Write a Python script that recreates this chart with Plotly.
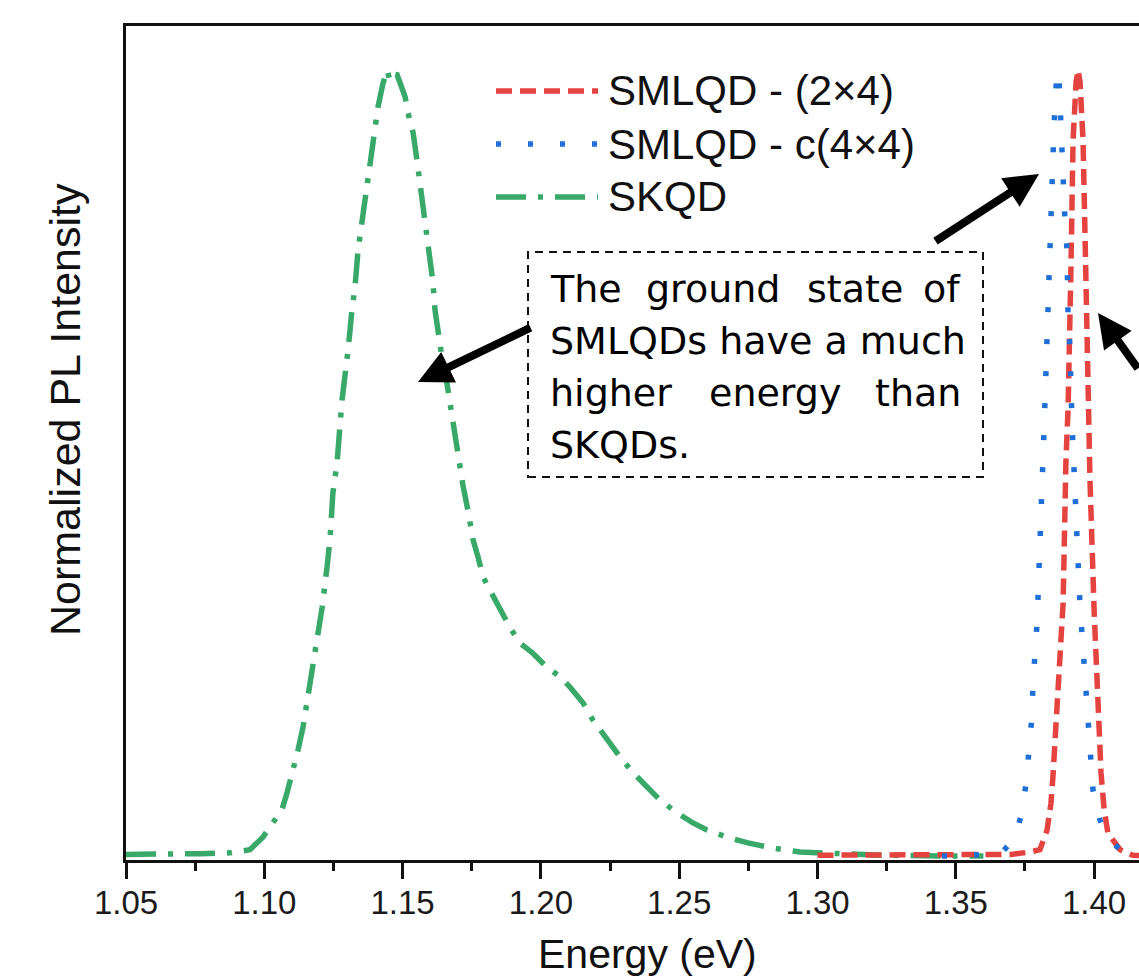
import plotly.graph_objects as go

# ---- spectra: photon energy (eV) and normalized PL intensity ----
skqd_energy = [1.0500, 1.0659, 1.0768, 1.0876, 1.0948, 1.0995, 1.1031, 1.1064, 1.1082, 1.1104,
               1.1122, 1.1140, 1.1154, 1.1172, 1.1191, 1.1209, 1.1227, 1.1238, 1.1248, 1.1263,
               1.1281, 1.1292, 1.1303, 1.1317, 1.1328, 1.1339, 1.1353, 1.1364, 1.1375, 1.1389,
               1.1400, 1.1411, 1.1429, 1.1444, 1.1454, 1.1465, 1.1480, 1.1498, 1.1509, 1.1520,
               1.1538, 1.1552, 1.1563, 1.1574, 1.1588, 1.1599, 1.1610, 1.1617, 1.1628, 1.1642,
               1.1660, 1.1671, 1.1682, 1.1700, 1.1718, 1.1736, 1.1755, 1.1773, 1.1791, 1.1816,
               1.1852, 1.1888, 1.1924, 1.1971, 1.2022, 1.2069, 1.2105, 1.2152, 1.2188, 1.2239,
               1.2286, 1.2333, 1.2384, 1.2431, 1.2492, 1.2550, 1.2600, 1.2673, 1.2745, 1.2839,
               1.2937, 1.3045, 1.3226, 1.3479, 1.3600]
skqd_intensity = [0.002, 0.002, 0.003, 0.004, 0.008, 0.024, 0.042, 0.059, 0.080, 0.109,
                  0.135, 0.164, 0.195, 0.226, 0.279, 0.316, 0.368, 0.405, 0.462, 0.500,
                  0.580, 0.609, 0.644, 0.695, 0.724, 0.771, 0.809, 0.835, 0.866, 0.898,
                  0.934, 0.953, 0.983, 1.000, 0.987, 0.995, 0.994, 0.978, 0.966, 0.945,
                  0.920, 0.885, 0.856, 0.822, 0.788, 0.758, 0.729, 0.695, 0.665, 0.635,
                  0.602, 0.576, 0.555, 0.510, 0.472, 0.440, 0.402, 0.380, 0.355, 0.338,
                  0.313, 0.291, 0.271, 0.258, 0.240, 0.228, 0.215, 0.195, 0.173, 0.148,
                  0.126, 0.106, 0.088, 0.071, 0.055, 0.042, 0.033, 0.024, 0.017, 0.010,
                  0.005, 0.003, 0.001, 0.000, 0.000]

sml24_energy = [1.3000, 1.3300, 1.3600, 1.3700, 1.3768, 1.3804, 1.3830, 1.3844, 1.3851, 1.3862,
                1.3869, 1.3877, 1.3884, 1.3888, 1.3898, 1.3906, 1.3916, 1.3924, 1.3935, 1.3942,
                1.3949, 1.3960, 1.3970, 1.3978, 1.3985, 1.4000, 1.4007, 1.4010, 1.4018, 1.4025,
                1.4036, 1.4050, 1.4094, 1.4140, 1.4184]
sml24_intensity = [0.001, 0.001, 0.001, 0.002, 0.005, 0.008, 0.033, 0.067, 0.100, 0.165,
                   0.202, 0.237, 0.275, 0.322, 0.500, 0.571, 0.742, 0.911, 0.985, 1.000,
                   0.985, 0.911, 0.742, 0.571, 0.480, 0.313, 0.250, 0.200, 0.150, 0.106,
                   0.060, 0.029, 0.008, 0.001, 0.000]

sml44_energy = [1.3450, 1.3515, 1.3606, 1.3660, 1.3714, 1.3739, 1.3754, 1.3765, 1.3775, 1.3779,
                1.3786, 1.3794, 1.3819, 1.3822, 1.3830, 1.3833, 1.3837, 1.3844, 1.3848, 1.3851,
                1.3855, 1.3862, 1.3866, 1.3873, 1.3877, 1.3884, 1.3888, 1.3891, 1.3895, 1.3902,
                1.3906, 1.3913, 1.3916, 1.3920, 1.3949, 1.3956, 1.3960, 1.3970, 1.3978, 1.3985,
                1.3996, 1.4021, 1.4050, 1.4094, 1.4140]
sml44_intensity = [0.000, 0.000, 0.002, 0.002, 0.023, 0.055, 0.092, 0.131, 0.176, 0.218,
                   0.262, 0.298, 0.542, 0.578, 0.656, 0.698, 0.742, 0.788, 0.838, 0.882,
                   0.928, 0.975, 1.000, 0.990, 0.952, 0.928, 0.882, 0.847, 0.805, 0.771,
                   0.686, 0.644, 0.606, 0.551, 0.319, 0.284, 0.247, 0.202, 0.163, 0.126,
                   0.084, 0.046, 0.023, 0.008, 0.001]

x_ticks = [1.05, 1.10, 1.15, 1.20, 1.25, 1.30, 1.35, 1.40]
x_minor_ticks = [1.075, 1.125, 1.175, 1.225, 1.275, 1.325, 1.375]

RED = "#e5433f"
BLUE = "#1f6fd8"
GREEN = "#38a968"

series = [
    ("SMLQD - (2×4)", sml24_energy, sml24_intensity, RED, "16px,8px"),
    ("SMLQD - c(4×4)", sml44_energy, sml44_intensity, BLUE, "5px,27px"),
    ("SKQD", skqd_energy, skqd_intensity, GREEN, "30px,12px,5px,12px"),
]

W, H = 1139, 979
ML, MR, MT, MB = 126, 0, 26, 119
PW, PH = W - ML - MR, H - MT - MB


def px(x):
    return (x - ML) / PW


def py(y):
    return (H - MB - y) / PH


fig = go.Figure()
# draw SKQD first so the narrow SML peaks sit on top
for name, e, i, col, dash in [series[2], series[0], series[1]]:
    fig.add_trace(go.Scatter(x=e, y=i, mode="lines", name=name, showlegend=False,
                             line=dict(color=col, width=5.5, dash=dash)))

shapes = []
annotations = []

# hand-built legend
leg_rows = [91, 144, 197]
for (name, _, _, col, dash), yy in zip(series, leg_rows):
    shapes.append(dict(type="line", xref="paper", yref="paper",
                       x0=px(496), x1=px(598), y0=py(yy), y1=py(yy),
                       line=dict(color=col, width=5.5, dash=dash)))
    annotations.append(dict(text=name, xref="paper", yref="paper", x=px(606), y=py(yy),
                            xanchor="left", yanchor="middle", showarrow=False,
                            font=dict(family="Liberation Sans, Arial", size=42, color="#111")))

# dashed note box
shapes.append(dict(type="rect", xref="paper", yref="paper",
                   x0=px(528), x1=px(983), y0=py(477), y1=py(252),
                   line=dict(color="#111", width=2, dash="8px,6px"), fillcolor="rgba(0,0,0,0)"))

note_font = dict(family="DejaVu Sans", size=38, color="#000")
note_words = [
    # (text, x pixel, anchor, baseline pixel) -- justified lines are set word by word
    ("The", 548, "left", 303), ("ground", 644, "left", 303), ("state", 805, "left", 303),
    ("of", 963, "right", 303),
    ("SMLQDs have a much", 548, "left", 355),
    ("higher", 548, "left", 407), ("energy", 707, "left", 407), ("than", 963, "right", 407),
    ("SKQDs.", 548, "left", 459),
]
for txt, xx, anc, base in note_words:
    annotations.append(dict(text=txt, xref="paper", yref="paper", x=px(xx), y=py(base - 14),
                            xanchor=anc, yanchor="middle", showarrow=False, font=note_font))

# arrows: (tip, tail) in pixels; tail given as pixel offset from the tip
arrows = [((418, 382), (532, 327)), ((1039, 174), (934, 242)), ((1098, 313), (1175, 370))]
for (tx, ty), (sx, sy) in arrows:
    annotations.append(dict(text="", xref="paper", yref="paper",
                            x=px(tx), y=py(ty), ax=sx - tx, ay=sy - ty, showarrow=True,
                            arrowhead=2, arrowsize=0.85, arrowwidth=8, arrowcolor="#000",
                            standoff=0))

# axis titles
annotations.append(dict(text="Energy (eV)", xref="x", yref="paper",
                        x=1.05 + (647 - ML) / 2766, y=py(979), xanchor="center", yanchor="bottom",
                        showarrow=False, font=dict(family="Liberation Sans, Arial", size=41, color="#111")))
annotations.append(dict(text="Normalized PL Intensity", xref="paper", yref="paper",
                        x=px(65), y=py(410), xanchor="center", yanchor="middle", textangle=-90,
                        showarrow=False, font=dict(family="Liberation Sans, Arial", size=43, color="#111")))

x_end = 1.05 + PW / 2766

fig.update_layout(
    width=W, height=H,
    margin=dict(l=ML, r=MR, t=MT, b=MB, pad=0),
    paper_bgcolor="white", plot_bgcolor="white",
    showlegend=False,
    font=dict(family="Liberation Sans, Arial", color="#111"),
    shapes=shapes, annotations=annotations,
    xaxis=dict(range=[1.05, x_end], tickmode="array", tickvals=x_ticks,
               ticktext=[f"{v:.2f}" for v in x_ticks],
               ticks="outside", ticklen=16, tickwidth=3, tickcolor="#111",
               ticklabelstandoff=-5,
               tickfont=dict(size=33, color="#1a1a1a"),
               showline=True, linecolor="#111", linewidth=3, mirror=True,
               showgrid=False, zeroline=False,
               minor=dict(tickmode="array", tickvals=x_minor_ticks,
                          ticks="outside", ticklen=8, tickwidth=3, tickcolor="#111", showgrid=False)),
    yaxis=dict(range=[-0.0051, 1.056], showticklabels=False, ticks="",
               showline=True, linecolor="#111", linewidth=3, mirror=False,
               showgrid=False, zeroline=False),
)

fig.write_html("out.html")
